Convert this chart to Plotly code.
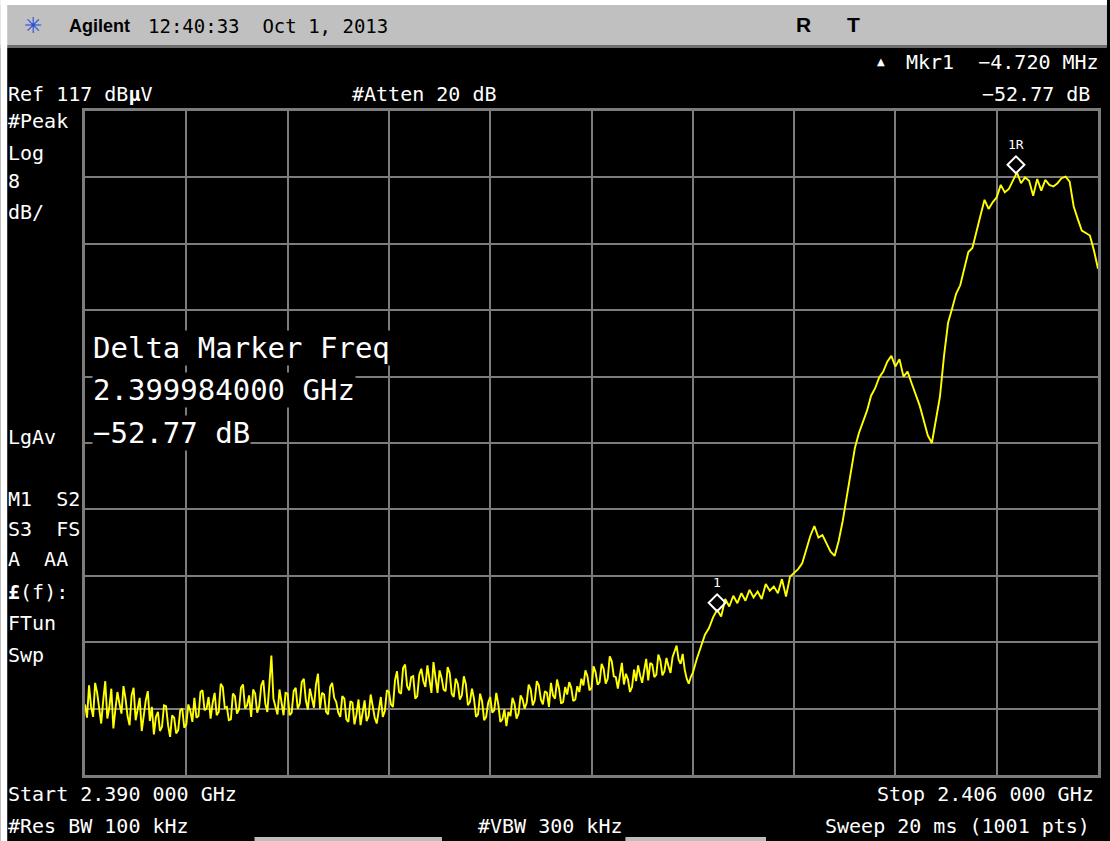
import numpy as np
import plotly.graph_objects as go

# ---------------- data ----------------
START_GHZ = 2.390
SPLIT_GHZ = 2.3996       # noise floor read at finer spacing below this
STOP_GHZ = 2.406
REF_LEVEL = 117.0        # dBuV (top of screen)
DB_PER_DIV = 8.0
N_DIV = 10

# 2.3900 .. 2.399568 GHz, step 32 kHz (300 readings)
NOISE_DBUV = [
    45.5, 43.9, 47.8, 45.2, 44.0, 48.1, 46.9, 44.7, 43.2, 46.0, 48.3, 43.8, 45.1, 47.4, 42.6, 44.9,
    47.0, 45.6, 44.4, 47.7, 46.2, 44.1, 43.0, 46.6, 47.5, 43.6, 44.8, 46.3, 42.3, 44.5, 46.0, 47.1,
    43.5, 45.2, 41.9, 44.0, 44.6, 42.3, 42.8, 45.4, 45.3, 43.0, 41.6, 44.2, 43.9, 42.0, 42.4, 44.8,
    45.0, 42.7, 43.1, 45.5, 44.7, 43.4,
    46.3, 43.9, 44.1, 47.0, 47.2, 44.8, 45.0, 46.4, 43.8, 45.7, 46.9, 44.2, 44.6, 48.0, 47.6, 45.1,
    45.2, 43.6, 43.7, 46.8, 46.5, 44.4, 44.9, 47.5, 47.9, 45.0, 45.4, 46.6, 44.0, 47.3, 46.8, 44.5,
    45.3, 47.8, 48.4, 45.6, 44.6, 47.9, 51.4, 46.2, 45.1, 44.3, 47.3, 45.9, 44.2, 46.9,
    46.8, 44.2, 44.5, 47.1, 47.5, 45.0, 45.6, 48.2, 48.6, 46.0, 44.9, 47.4, 46.4, 45.1, 47.9, 49.2,
    45.0, 46.9, 46.7, 44.6, 44.3, 47.6, 48.1, 46.3, 45.8, 44.5,
    44.0, 46.5, 46.2, 43.7, 43.4, 45.9, 45.7, 43.1, 44.3, 46.1, 43.0, 44.6, 46.0, 43.5, 44.1, 46.7,
    45.3, 43.9, 43.2, 45.0, 46.4, 44.0, 44.7, 47.2, 47.0, 45.5, 45.2, 48.4,
    49.5, 47.0, 46.8, 49.9, 50.3, 47.7, 47.2, 48.8, 48.9, 46.2, 46.5, 49.1, 49.8, 48.3, 47.6, 50.2,
    48.2, 46.9, 50.6, 48.4, 46.9, 49.6, 48.7, 47.3, 47.1, 50.0, 49.3, 46.8, 46.4, 48.6, 48.0, 46.1,
    46.6, 48.9, 47.9, 45.4, 45.8, 47.4,
    46.2, 44.0, 44.3, 46.8, 45.9, 43.6, 44.0, 45.7, 46.4, 44.5, 44.8, 46.9, 45.5, 43.4, 43.7, 44.9,
    42.9, 44.6, 44.1, 46.3, 45.6, 43.8, 44.4, 46.6, 46.1, 45.0,
    45.7, 47.9, 47.3, 45.4, 46.0, 48.3, 47.8, 46.1, 45.5, 47.1, 46.9, 45.2, 48.1, 46.6, 46.2, 48.5,
    47.4, 45.6, 45.8, 47.6, 46.7, 48.2, 47.5, 45.9, 46.1, 47.7, 47.0, 48.6,
    47.8, 49.6, 48.9, 47.2, 47.5, 50.1, 49.4, 47.9, 48.2, 50.4, 49.8, 48.0, 48.6, 51.3, 50.7, 48.9,
    48.8, 47.4, 49.3, 50.5, 47.9, 49.2, 48.5, 47.0, 47.6, 49.7, 48.3, 50.2, 49.0, 48.1,
    49.6, 51.0, 48.4, 50.5, 50.3, 48.8, 49.1, 51.5, 50.8, 49.0, 49.5, 51.1, 50.1, 49.3, 51.2, 52.0,
    52.6, 50.9, 50.4, 51.6, 49.7, 48.6, 48.0, 48.8,
]

# 2.3996 .. 2.4060 GHz, step 64 kHz (101 readings)
SIGNAL_DBUV = [
    49.3, 51.0, 52.4, 53.9, 54.7, 56.0, 56.9,
    56.1, 58.2, 57.3, 58.6, 57.7, 58.9, 58.0, 59.3, 58.4, 59.1, 58.2, 60.0, 59.2, 59.7, 58.9, 60.6,
    58.5, 60.9, 61.4,
    61.8, 62.5, 64.2, 65.8, 67.0, 65.6, 65.9, 64.8, 63.9, 63.4, 65.2, 67.6, 70.4, 73.5, 76.4, 78.2,
    79.6, 80.9, 82.7, 83.6, 84.9, 85.6, 86.8, 87.5, 86.2, 87.1, 85.0, 85.6, 84.2, 82.8, 81.5, 79.7,
    77.9, 77.0,
    80.0, 82.6, 87.5, 91.5, 93.2, 95.0, 96.0, 98.2, 100.0, 100.5, 102.3, 104.4, 106.3, 105.2, 106.0,
    106.6, 108.1, 107.2, 107.6, 108.6, 109.6, 108.3, 109.0, 108.6, 106.8, 108.8, 107.4, 108.7, 108.1,
    107.9, 108.3, 108.9, 109.1, 108.5, 105.5, 104.0, 102.6, 102.3, 102.0, 100.2, 98.0,
]

MARKER_FREQ_GHZ = [2.399984, 2.404704]
MARKER_LEVEL_DBUV = [56.9, 109.67]
MARKER_LABELS = ["1", "1R"]

FREQ_GHZ = np.concatenate([
    np.linspace(START_GHZ, SPLIT_GHZ, len(NOISE_DBUV), endpoint=False),
    np.linspace(SPLIT_GHZ, STOP_GHZ, len(SIGNAL_DBUV)),
])
LEVEL_DBUV = NOISE_DBUV + SIGNAL_DBUV

# ---------------- layout geometry (pixels) ----------------
W, H = 1110, 841
L, R, T, B = 85, 1101, 111, 775          # graticule box
MARKER_OFFSET_DB = 0.85                  # diamond sits just above trace point

MONO = "DejaVu Sans Mono"
SANS = "Liberation Sans"
GRID = "#7c7c7c"


def px(x, y):
    """convert screen pixel to paper coords"""
    return (x - L) / (R - L), (B - y) / (B - T)


fig = go.Figure()

fig.add_trace(go.Scatter(
    x=FREQ_GHZ, y=LEVEL_DBUV, mode="lines",
    line=dict(color="#ffff00", width=1.9),
    hoverinfo="skip", showlegend=False,
))

fig.add_trace(go.Scatter(
    x=MARKER_FREQ_GHZ,
    y=[v + MARKER_OFFSET_DB for v in MARKER_LEVEL_DBUV],
    mode="markers",
    marker=dict(symbol="diamond-open", size=13, color="white", line=dict(width=2, color="white")),
    hoverinfo="skip", showlegend=False,
))

annotations = []
for f, v, lab in zip(MARKER_FREQ_GHZ, MARKER_LEVEL_DBUV, MARKER_LABELS):
    annotations.append(dict(
        x=f, y=v, xref="x", yref="y", text=lab, showarrow=False,
        yshift=27, font=dict(family=MONO, size=13, color="white"),
    ))


def txt(x, y, s, size=20, color="white", family=MONO, anchor="left", bg=None, **kw):
    xp, yp = px(x, y)
    d = dict(x=xp, y=yp, xref="paper", yref="paper", text=s, showarrow=False,
             xanchor=anchor, yanchor="middle",
             font=dict(family=family, size=size, color=color), borderpad=0)
    if bg:
        d["bgcolor"] = bg
    d.update(kw)
    annotations.append(d)


# header bar
txt(68, 26, "<b>Agilent</b>", size=18, color="black", family=SANS)
txt(147, 26, "12:40:33  Oct 1, 2013", size=19, color="black")
txt(797, 25, "<b>R</b>", size=21, color="black", family=SANS)
txt(848, 25, "<b>T</b>", size=21, color="black", family=SANS)
txt(33, 26, "✳", size=22, color="#2a4fd8", family="DejaVu Sans", anchor="center")

# marker readout
txt(883, 62, "▲", size=10, color="white", family="DejaVu Sans", anchor="center")
txt(1103, 62, "Mkr1  −4.720 MHz", size=20, anchor="right")
txt(1094, 94, "−52.77 dB", size=20, anchor="right")

# reference / attenuation
txt(7, 94, "Ref 117 dB<b>µ</b>V", size=20)
txt(352, 94, "#Atten 20 dB", size=20)

# left-side annotations
for y, s in [(121, "#Peak"), (153, "Log"), (181, "8"), (212, "dB/"),
             (437, "LgAv"), (499, "M1  S2"), (529, "S3  FS"), (559, "A  AA"),
             (592, "<b>£</b>(f):"), (623, "FTun"), (655, "Swp")]:
    txt(7, y, s, size=20)

# delta marker big readout
txt(92, 348, "Delta Marker Freq", size=29, bg="black")
txt(92, 390, "2.399984000 GHz", size=29, bg="black")
txt(92, 433, "−52.77 dB", size=29, bg="black")

# bottom lines
txt(7, 794, "Start 2.390 000 GHz", size=20)
txt(1098, 794, "Stop 2.406 000 GHz", size=20, anchor="right")
txt(7, 826, "#Res BW 100 kHz", size=20)
txt(478, 826, "#VBW 300 kHz", size=20)
txt(1094, 826, "Sweep 20 ms (1001 pts)", size=20, anchor="right")

shapes = []


def rect(x0, y0, x1, y1, color, layer="below"):
    a0, b0 = px(x0, y0)
    a1, b1 = px(x1, y1)
    shapes.append(dict(type="rect", xref="paper", yref="paper", x0=a0, y0=b1, x1=a1, y1=b0,
                       fillcolor=color, line=dict(width=0), layer=layer))


rect(0, 0, W, 5, "white", "above")
rect(0, 5, W, 45, "#c0c0c0", "above")
rect(0, 45, W, 48, "#6e6e6e", "above")
rect(0, 0, 7, H, "white", "above")
rect(255, 837, 443, H, "#bdbdbd", "above")
rect(627, 837, 768, H, "#bdbdbd", "above")

fig.update_layout(
    width=W, height=H,
    margin=dict(l=L, r=W - R, t=T, b=H - B, pad=0),
    paper_bgcolor="black", plot_bgcolor="black",
    showlegend=False,
    annotations=annotations,
    shapes=shapes,
    xaxis=dict(range=[START_GHZ, STOP_GHZ], showticklabels=False, ticks="",
               tick0=START_GHZ, dtick=(STOP_GHZ - START_GHZ) / N_DIV,
               showgrid=True, gridcolor=GRID, gridwidth=2, zeroline=False,
               showline=True, mirror=True, linecolor=GRID, linewidth=3, fixedrange=True),
    yaxis=dict(range=[REF_LEVEL - DB_PER_DIV * N_DIV, REF_LEVEL], showticklabels=False, ticks="",
               tick0=REF_LEVEL, dtick=DB_PER_DIV,
               showgrid=True, gridcolor=GRID, gridwidth=2, zeroline=False,
               showline=True, mirror=True, linecolor=GRID, linewidth=3, fixedrange=True),
)

fig.write_html(
    "out.html",
    config={"displayModeBar": False},
    post_script="document.body.style.margin='0';document.body.style.padding='0';"
                "document.documentElement.style.margin='0';document.body.style.overflow='hidden';",
)
